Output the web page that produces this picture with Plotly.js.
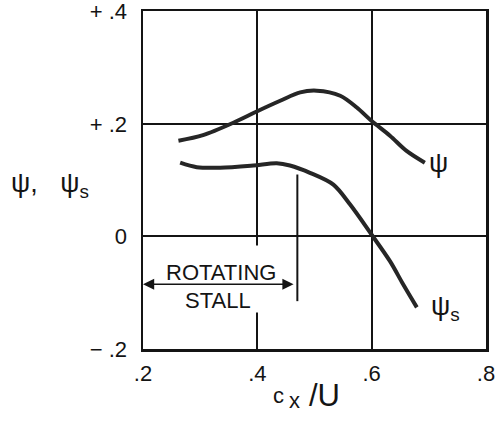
<!DOCTYPE html>
<html>
<head>
<meta charset="utf-8">
<script src="https://cdn.plot.ly/plotly-3.0.1.min.js"></script>
<style>
  html, body { margin: 0; padding: 0; background: #fff; }
  #chart { width: 497px; height: 423px; }
</style>
</head>
<body>
<div id="chart"></div>
<script>
// Pressure-rise coefficient ψ and static ψs against flow coefficient cx/U
const psiX  = [0.262, 0.305, 0.358, 0.399, 0.440, 0.475, 0.504, 0.545, 0.574, 0.600, 0.632, 0.661, 0.693];
const psiY  = [0.170, 0.180, 0.202, 0.222, 0.241, 0.256, 0.259, 0.250, 0.229, 0.205, 0.179, 0.152, 0.131];
const psisX = [0.265, 0.294, 0.335, 0.393, 0.434, 0.457, 0.492, 0.533, 0.562, 0.600, 0.632, 0.655, 0.679];
const psisY = [0.131, 0.123, 0.122, 0.126, 0.130, 0.126, 0.113, 0.092, 0.057, 0.003, -0.044, -0.085, -0.126];

// Rotating-stall region boundary
const stallLimit = 0.47;

const xTickVals = [0.2, 0.4, 0.6, 0.8];
const xTickText = ['.2', '.4', '.6', '.8'];
const yTickVals = [-0.2, 0, 0.2, 0.4];
const yTickText = ['−\u00a0.2', '0', '+\u00a0.2', '+\u00a0.4'];

const ink = '#141414';
const curveInk = '#262626';
const font = 'Liberation Sans, Arial, Helvetica, sans-serif';

const traces = [
  { x: psiX, y: psiY, mode: 'lines', line: { color: curveInk, width: 4, shape: 'spline', smoothing: 0.9 }, hoverinfo: 'skip' },
  { x: psisX, y: psisY, mode: 'lines', line: { color: curveInk, width: 4, shape: 'spline', smoothing: 0.9 }, hoverinfo: 'skip' }
];

// pixel-style placement helpers for the plot area (paper coordinates)
const px = v => (v - 143) / 343;
const py = v => (349 - v) / 338;

const layout = {
  width: 497, height: 423,
  margin: { l: 143, r: 11, t: 11, b: 74 },
  paper_bgcolor: '#fff', plot_bgcolor: '#fff',
  showlegend: false,
  font: { family: font, color: ink },
  xaxis: {
    range: [0.2, 0.8], tickvals: xTickVals, ticktext: xTickText,
    showgrid: true, gridcolor: ink, gridwidth: 2,
    showline: true, linecolor: ink, linewidth: 2.5, mirror: true,
    zeroline: false, ticks: '', ticklabelstandoff: 3, ticklabeloverflow: 'allow',
    tickfont: { size: 22, family: font, color: ink }
  },
  yaxis: {
    range: [-0.2, 0.4005], tickvals: yTickVals, ticktext: yTickText,
    showgrid: true, gridcolor: ink, gridwidth: 2,
    showline: true, linecolor: ink, linewidth: 2.5, mirror: true,
    zeroline: false, ticks: '', ticklabelstandoff: 9, ticklabeloverflow: 'allow',
    tickfont: { size: 22, family: font, color: ink }
  },
  shapes: [
    // white gap in the .4 gridline behind the stall label
    { type: 'rect', layer: 'between', xref: 'x', yref: 'y', x0: 0.385, x1: 0.415, y0: -0.135, y1: -0.016,
      fillcolor: '#fff', line: { width: 0 } },
    // stall boundary marker
    { type: 'line', xref: 'x', yref: 'y', x0: stallLimit, x1: stallLimit, y0: 0.11, y1: -0.115,
      line: { color: ink, width: 2 } }
  ],
  annotations: [
    // double-headed arrow spanning the stall region
    { xref: 'x', yref: 'y', axref: 'x', ayref: 'y', x: 0.2, y: -0.085, ax: stallLimit - 0.004, ay: -0.085,
      text: '', showarrow: true, arrowhead: 2, startarrowhead: 2, arrowside: 'end+start',
      arrowsize: 1.4, startarrowsize: 1.4, arrowwidth: 1.6, arrowcolor: ink },
    { xref: 'x', yref: 'y', x: 0.336, y: -0.064, text: 'ROTATING', showarrow: false,
      xanchor: 'center', yanchor: 'middle', font: { size: 22, family: font, color: ink } },
    { xref: 'x', yref: 'y', x: 0.331, y: -0.114, text: 'STALL', showarrow: false,
      xanchor: 'center', yanchor: 'middle', font: { size: 22, family: font, color: ink } },
    // curve labels
    { xref: 'x', yref: 'y', x: 0.717, y: 0.131, text: 'ψ', showarrow: false,
      xanchor: 'center', yanchor: 'middle', font: { size: 27, family: font, color: ink } },
    { xref: 'x', yref: 'y', x: 0.729, y: -0.127, text: 'ψ<sub>s</sub>', showarrow: false,
      xanchor: 'center', yanchor: 'middle', font: { size: 27, family: font, color: ink } },
    // y-axis title
    { xref: 'paper', yref: 'paper', x: px(50), y: py(185), text: 'ψ,\u00a0\u00a0\u00a0ψ<sub>s</sub>', showarrow: false,
      xanchor: 'center', yanchor: 'middle', font: { size: 27, family: font, color: ink } },
    // x-axis title, c with subscript x, over U
    { xref: 'paper', yref: 'paper', x: px(278), y: py(395), text: 'c', showarrow: false,
      xanchor: 'center', yanchor: 'middle', font: { size: 22, family: font, color: ink } },
    { xref: 'paper', yref: 'paper', x: px(294), y: py(401), text: 'x', showarrow: false,
      xanchor: 'center', yanchor: 'middle', font: { size: 22, family: font, color: ink } },
    { xref: 'paper', yref: 'paper', x: px(324), y: py(395), text: '/U', showarrow: false,
      xanchor: 'center', yanchor: 'middle', font: { size: 31, family: font, color: ink } }
  ]
};

Plotly.newPlot('chart', traces, layout, { staticPlot: true, displayModeBar: false });
</script>
</body>
</html>
